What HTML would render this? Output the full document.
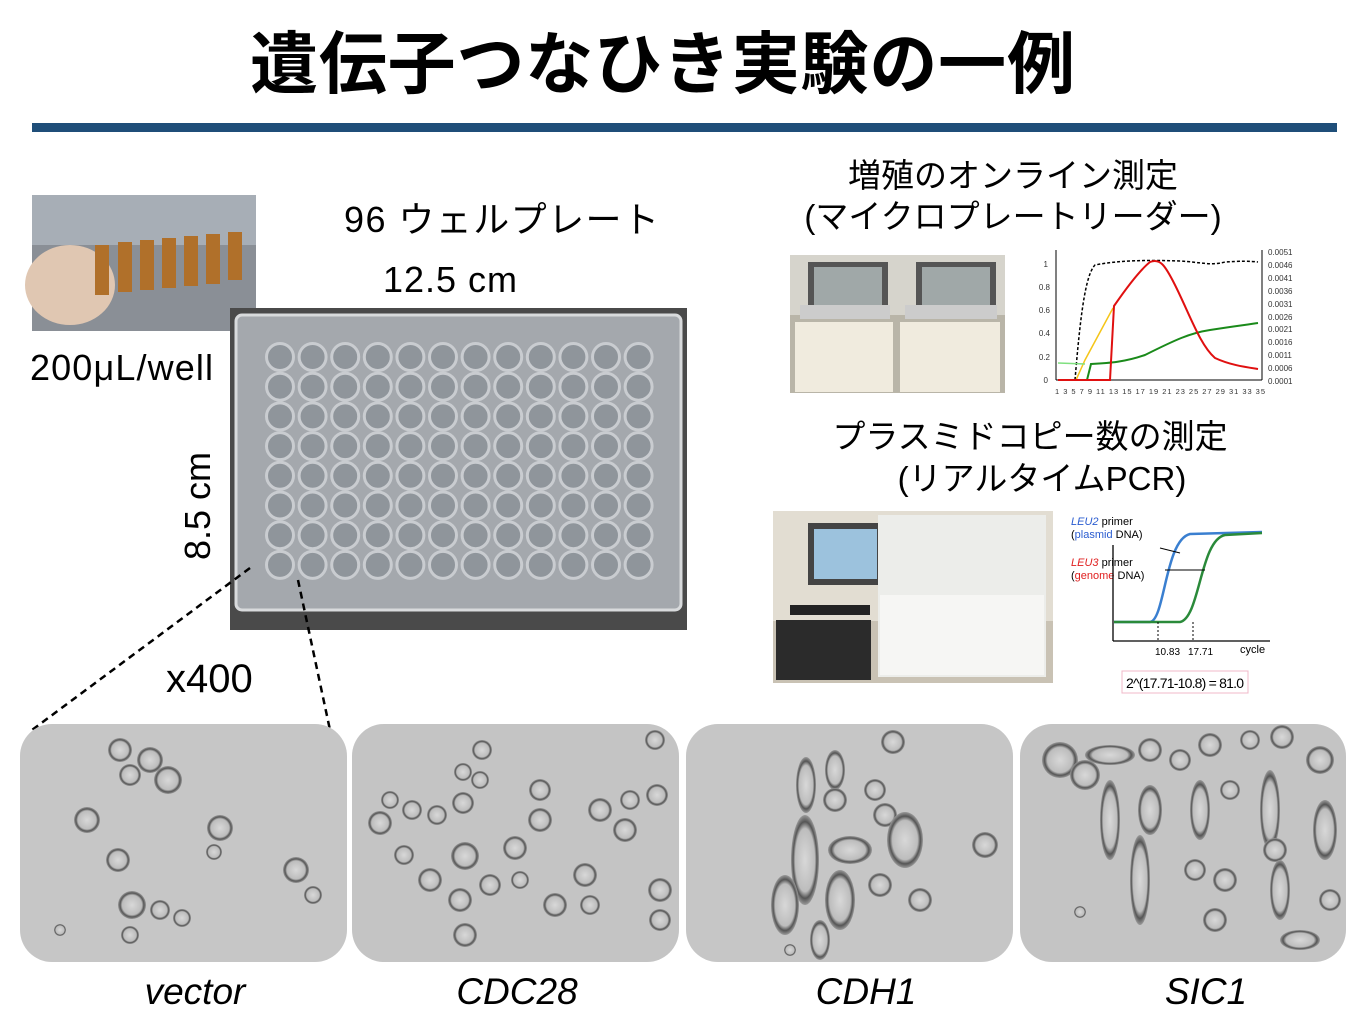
<!DOCTYPE html>
<html><head><meta charset="utf-8"><style>
body{margin:0;background:#fff;width:1363px;height:1028px;overflow:hidden;font-family:"Liberation Sans","Noto Sans CJK JP",sans-serif}
svg{position:absolute;left:0;top:0}
</style></head><body>
<svg width="1363" height="1028" viewBox="0 0 1363 1028" font-family="Liberation Sans, Noto Sans CJK JP, sans-serif">
<defs>
<radialGradient id="cell" cx="50%" cy="50%" r="50%"><stop offset="0" stop-color="#d8d8d8"/><stop offset="0.7" stop-color="#bdbdbd"/><stop offset="0.85" stop-color="#555"/><stop offset="1" stop-color="#9a9a9a"/></radialGradient>
<clipPath id="c1"><rect x="20" y="724" width="327" height="238" rx="32"/></clipPath>
<clipPath id="c2"><rect x="352" y="724" width="327" height="238" rx="32"/></clipPath>
<clipPath id="c3"><rect x="686" y="724" width="327" height="238" rx="32"/></clipPath>
<clipPath id="c4"><rect x="1020" y="724" width="326" height="238" rx="32"/></clipPath>
</defs>
<text x="250" y="88" font-size="68" font-weight="bold" textLength="825" font-family="Noto Sans CJK JP, sans-serif">遺伝子つなひき実験の一例</text>
<rect x="32" y="123" width="1305" height="9" fill="#1f4e79"/>

<!-- tubes photo -->
<rect x="32" y="195" width="224" height="136" fill="#8a8f96"/>
<rect x="32" y="195" width="224" height="50" fill="#a7aeb6"/>
<ellipse cx="70" cy="285" rx="45" ry="40" fill="#e0c7b2"/>
<g fill="#b0702a"><rect x="95" y="245" width="14" height="50"/><rect x="118" y="242" width="14" height="50"/><rect x="140" y="240" width="14" height="50"/><rect x="162" y="238" width="14" height="50"/><rect x="184" y="236" width="14" height="50"/><rect x="206" y="234" width="14" height="50"/><rect x="228" y="232" width="14" height="48"/></g>
<text x="30" y="380" font-size="36" textLength="183">200μL/well</text>

<text x="344" y="232" font-size="36" textLength="315">96 ウェルプレート</text>
<text x="383" y="292" font-size="36" textLength="134">12.5 cm</text>
<text x="0" y="0" font-size="36" transform="translate(210,560) rotate(-90)">8.5 cm</text>

<!-- plate -->
<rect x="230" y="308" width="457" height="322" fill="#4a4a4a"/>
<rect x="236" y="315" width="445" height="295" rx="6" fill="#a4a8ad" stroke="#d8dadc" stroke-width="3"/>
<g id="wells" fill="#8f959b" stroke="#c9ccd0" stroke-width="3"></g>
<text x="166" y="692" font-size="40">x400</text>
<line x1="250" y1="568" x2="32" y2="730" stroke="#000" stroke-width="2.5" stroke-dasharray="7,5"/>
<line x1="298" y1="580" x2="330" y2="730" stroke="#000" stroke-width="2.5" stroke-dasharray="7,5"/>

<!-- right: growth -->
<text x="1013" y="187" font-size="33" text-anchor="middle">増殖のオンライン測定</text>
<text x="1013" y="228" font-size="33" text-anchor="middle">(マイクロプレートリーダー)</text>
<rect x="790" y="255" width="215" height="138" fill="#b9b5a8"/>
<rect x="790" y="255" width="215" height="60" fill="#d6d4cc"/>
<rect x="808" y="262" width="80" height="50" fill="#555"/><rect x="814" y="267" width="68" height="40" fill="#a0a8a8"/>
<rect x="916" y="262" width="80" height="50" fill="#555"/><rect x="922" y="267" width="68" height="40" fill="#a0a8a8"/>
<rect x="795" y="322" width="98" height="70" fill="#f0ebde"/><rect x="900" y="322" width="100" height="70" fill="#f0ebde"/>
<rect x="800" y="305" width="90" height="14" fill="#ccc"/><rect x="905" y="305" width="92" height="14" fill="#ccc"/>

<g font-size="8" fill="#333">
<line x1="1056" y1="250" x2="1056" y2="380" stroke="#000"/><line x1="1056" y1="380" x2="1262" y2="380" stroke="#000"/>
<line x1="1262" y1="250" x2="1262" y2="380" stroke="#000"/>
<text x="1048" y="267" text-anchor="end">1</text><text x="1050" y="290" text-anchor="end">0.8</text><text x="1050" y="313" text-anchor="end">0.6</text><text x="1050" y="336" text-anchor="end">0.4</text><text x="1050" y="360" text-anchor="end">0.2</text><text x="1048" y="383" text-anchor="end">0</text>
<text x="1268" y="255">0.0051</text><text x="1268" y="268">0.0046</text><text x="1268" y="281">0.0041</text><text x="1268" y="294">0.0036</text><text x="1268" y="307">0.0031</text><text x="1268" y="320">0.0026</text><text x="1268" y="332">0.0021</text><text x="1268" y="345">0.0016</text><text x="1268" y="358">0.0011</text><text x="1268" y="371">0.0006</text><text x="1268" y="384">0.0001</text>
<text x="1055" y="394" font-size="7.5" textLength="210">1 3 5 7 9 11 13 15 17 19 21 23 25 27 29 31 33 35</text>
</g>
<path d="M1075,380 C1080,320 1085,275 1095,265 C1120,260 1150,260 1180,261 C1200,262 1210,266 1225,262 C1240,261 1250,261 1258,262" fill="none" stroke="#000" stroke-width="1.5" stroke-dasharray="3,2"/>
<path d="M1076,380 L1085,360 L1113,308" fill="none" stroke="#f5c518" stroke-width="1.5"/>
<path d="M1058,363 L1085,364" fill="none" stroke="#7fe07f" stroke-width="1.5"/>
<path d="M1087,380 L1091,364 C1110,363 1125,362 1145,355 C1175,340 1190,333 1210,330 C1235,326 1245,325 1258,323" fill="none" stroke="#1a8a1a" stroke-width="2"/>
<path d="M1058,380 L1110,380 L1114,306 C1125,290 1140,270 1150,262 C1160,258 1165,265 1175,285 C1190,315 1200,345 1215,358 C1230,365 1245,367 1258,369" fill="none" stroke="#e01010" stroke-width="2"/>

<!-- PCR -->
<text x="1030" y="448" font-size="33" text-anchor="middle">プラスミドコピー数の測定</text>
<text x="1042" y="490" font-size="33" text-anchor="middle">(リアルタイムPCR)</text>
<rect x="773" y="511" width="280" height="172" fill="#c9c2b4"/>
<rect x="773" y="511" width="280" height="110" fill="#e2ddd2"/>
<rect x="808" y="523" width="75" height="62" fill="#444"/><rect x="814" y="529" width="63" height="50" fill="#9cc2dd"/>
<rect x="878" y="515" width="168" height="162" fill="#ecedea"/>
<rect x="880" y="595" width="164" height="80" fill="#f6f6f4"/>
<rect x="776" y="620" width="95" height="60" fill="#2b2b2b"/>
<rect x="790" y="605" width="80" height="10" fill="#222"/>

<g font-size="11">
<text x="1071" y="525"><tspan fill="#2a5cd0" font-style="italic">LEU2</tspan> primer</text>
<text x="1071" y="538">(<tspan fill="#2a5cd0">plasmid</tspan> DNA)</text>
<text x="1071" y="566"><tspan fill="#e02020" font-style="italic">LEU3</tspan> primer</text>
<text x="1071" y="579">(<tspan fill="#e02020">genome</tspan> DNA)</text>
<text x="1155" y="655" font-size="10">10.83</text><text x="1188" y="655" font-size="10">17.71</text><text x="1240" y="653" font-size="11">cycle</text>
</g>
<line x1="1113" y1="545" x2="1113" y2="641" stroke="#000" stroke-width="1.3"/>
<line x1="1113" y1="641" x2="1270" y2="641" stroke="#000" stroke-width="1.3"/>
<path d="M1114,622 L1150,622 C1165,620 1165,540 1190,534 L1262,532" fill="none" stroke="#3a7fd0" stroke-width="2.5"/>
<path d="M1114,622 L1180,622 C1200,618 1200,540 1225,535 L1262,533" fill="none" stroke="#2a8a3a" stroke-width="2.5"/>
<line x1="1158" y1="622" x2="1158" y2="641" stroke="#000" stroke-dasharray="2,2"/>
<line x1="1193" y1="622" x2="1193" y2="641" stroke="#000" stroke-dasharray="2,2"/>
<line x1="1160" y1="548" x2="1180" y2="553" stroke="#000"/>
<line x1="1165" y1="570" x2="1205" y2="570" stroke="#000"/>
<rect x="1122" y="671" width="126" height="22" fill="#fff" stroke="#f0b8c8"/>
<text x="1126" y="688" font-size="14" textLength="118">2^(17.71-10.8) = 81.0</text>

<!-- micrographs -->
<g clip-path="url(#c1)"><rect x="20" y="724" width="327" height="238" fill="#c6c6c6"/>
<g fill="url(#cell)"><circle cx="120" cy="750" r="12"/><circle cx="150" cy="760" r="13"/><circle cx="168" cy="780" r="14"/><circle cx="130" cy="775" r="11"/><circle cx="87" cy="820" r="13"/><circle cx="118" cy="860" r="12"/><circle cx="220" cy="828" r="13"/><circle cx="214" cy="852" r="8"/><circle cx="296" cy="870" r="13"/><circle cx="313" cy="895" r="9"/><circle cx="132" cy="905" r="14"/><circle cx="160" cy="910" r="10"/><circle cx="182" cy="918" r="9"/><circle cx="130" cy="935" r="9"/><circle cx="60" cy="930" r="6"/></g></g>
<g clip-path="url(#c2)"><rect x="352" y="724" width="327" height="238" fill="#c4c4c4"/>
<g fill="url(#cell)"><circle cx="482" cy="750" r="10"/><circle cx="463" cy="772" r="9"/><circle cx="480" cy="780" r="9"/><circle cx="390" cy="800" r="9"/><circle cx="412" cy="810" r="10"/><circle cx="437" cy="815" r="10"/><circle cx="463" cy="803" r="11"/><circle cx="380" cy="823" r="12"/><circle cx="540" cy="790" r="11"/><circle cx="540" cy="820" r="12"/><circle cx="515" cy="848" r="12"/><circle cx="465" cy="856" r="14"/><circle cx="430" cy="880" r="12"/><circle cx="490" cy="885" r="11"/><circle cx="460" cy="900" r="12"/><circle cx="520" cy="880" r="9"/><circle cx="600" cy="810" r="12"/><circle cx="630" cy="800" r="10"/><circle cx="625" cy="830" r="12"/><circle cx="657" cy="795" r="11"/><circle cx="585" cy="875" r="12"/><circle cx="555" cy="905" r="12"/><circle cx="590" cy="905" r="10"/><circle cx="660" cy="890" r="12"/><circle cx="660" cy="920" r="11"/><circle cx="465" cy="935" r="12"/><circle cx="404" cy="855" r="10"/><circle cx="655" cy="740" r="10"/></g></g>
<g clip-path="url(#c3)"><rect x="686" y="724" width="327" height="238" fill="#c6c6c6"/>
<g fill="url(#cell)"><circle cx="893" cy="742" r="12"/><ellipse cx="806" cy="785" rx="10" ry="28"/><ellipse cx="835" cy="770" rx="10" ry="20"/><circle cx="835" cy="800" r="12"/><circle cx="875" cy="790" r="11"/><circle cx="885" cy="815" r="12"/><ellipse cx="805" cy="860" rx="14" ry="45"/><ellipse cx="850" cy="850" rx="22" ry="14"/><ellipse cx="905" cy="840" rx="18" ry="28"/><ellipse cx="840" cy="900" rx="15" ry="30"/><circle cx="880" cy="885" r="12"/><ellipse cx="785" cy="905" rx="14" ry="30"/><circle cx="920" cy="900" r="12"/><circle cx="985" cy="845" r="13"/><ellipse cx="820" cy="940" rx="10" ry="20"/><circle cx="790" cy="950" r="6"/></g></g>
<g clip-path="url(#c4)"><rect x="1020" y="724" width="326" height="238" fill="#c4c4c4"/>
<g fill="url(#cell)"><circle cx="1060" cy="760" r="18"/><circle cx="1085" cy="775" r="15"/><ellipse cx="1110" cy="755" rx="25" ry="10"/><circle cx="1150" cy="750" r="12"/><circle cx="1180" cy="760" r="11"/><circle cx="1210" cy="745" r="12"/><circle cx="1250" cy="740" r="10"/><circle cx="1282" cy="737" r="12"/><circle cx="1320" cy="760" r="14"/><ellipse cx="1110" cy="820" rx="10" ry="40"/><ellipse cx="1150" cy="810" rx="12" ry="25"/><ellipse cx="1200" cy="810" rx="10" ry="30"/><circle cx="1230" cy="790" r="10"/><ellipse cx="1270" cy="810" rx="10" ry="40"/><ellipse cx="1325" cy="830" rx="12" ry="30"/><ellipse cx="1140" cy="880" rx="10" ry="45"/><circle cx="1195" cy="870" r="11"/><circle cx="1225" cy="880" r="12"/><circle cx="1275" cy="850" r="12"/><ellipse cx="1280" cy="890" rx="10" ry="30"/><circle cx="1330" cy="900" r="11"/><circle cx="1215" cy="920" r="12"/><circle cx="1080" cy="912" r="6"/><ellipse cx="1300" cy="940" rx="20" ry="10"/></g></g>

<g font-size="37" font-style="italic" text-anchor="middle">
<text x="195" y="1004">vector</text><text x="517" y="1004">CDC28</text><text x="866" y="1004">CDH1</text><text x="1206" y="1004">SIC1</text>
</g>
</svg>
<script>
var g=document.getElementById('wells');
for(var r=0;r<8;r++)for(var c=0;c<12;c++){
var e=document.createElementNS('http://www.w3.org/2000/svg','circle');
e.setAttribute('cx',280+c*32.6);e.setAttribute('cy',357+r*29.7);e.setAttribute('r',13.5);g.appendChild(e);}
</script>
</body></html>
